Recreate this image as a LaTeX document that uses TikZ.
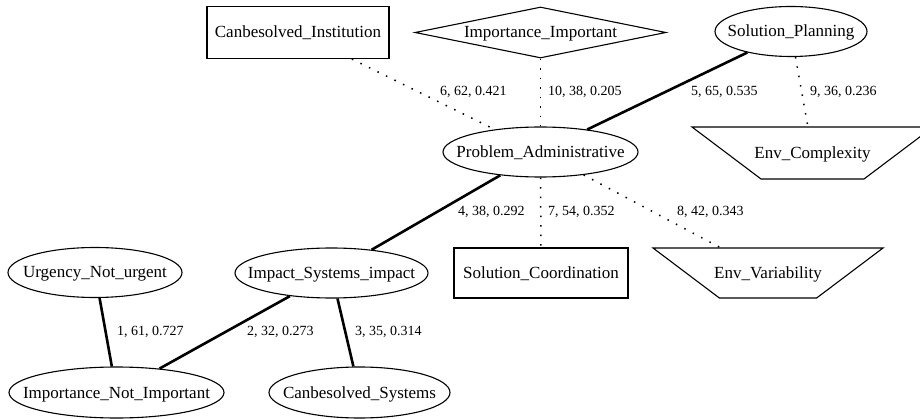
\documentclass[tikz,border=0pt]{standalone}
\usepackage{fontspec}
\setmainfont{Liberation Serif}
\usetikzlibrary{shapes.geometric}

\tikzset{
  graphnode/.style={draw, line width=1.1pt, font=\fontsize{17}{20}\selectfont,
    text height=14pt, text depth=3pt},
  boxnode/.style={graphnode, rectangle, inner sep=0pt},
  ovalnode/.style={graphnode, ellipse, inner xsep=-60pt, inner ysep=-20pt, minimum height=50pt},
  diamondnode/.style={graphnode, diamond, inner sep=-100pt},
  trapnode/.style={graphnode, trapezium, shape border rotate=180, trapezium angle=37,
    trapezium stretches body=true, inner xsep=-20pt},
  strong/.style={line width=2.6pt},
  weak/.style={line width=1.5pt, dash pattern=on 1.5pt off 8pt},
  weight/.style={font=\fontsize{14}{16}\selectfont, inner sep=0pt, anchor=base west},
}

\begin{document}
\begin{tikzpicture}[x=1pt, y=-1pt]
  \useasboundingbox (0,0) rectangle (920,419);
  \fill[white] (0,0) rectangle (920,419);
  \clip (0,0) rectangle (920,419);

  % nodes, top rank
  \node[boxnode, minimum width=182pt, minimum height=52pt] (inst) at (298,32.5) {Canbesolved\_Institution};
  \node[diamondnode, minimum width=251pt, minimum height=51pt] (impimp) at (540.5,32.5) {Importance\_Important};
  \node[ovalnode, minimum width=152pt] (plan) at (791,31.5) {Solution\_Planning};

  % second rank
  \node[ovalnode, minimum width=195pt] (prob) at (540.5,152) {Problem\_Administrative};
  \node[trapnode, minimum width=241pt, inner ysep=17.5pt] (envc) at (812.5,153) {Env\_Complexity};

  % third rank
  \node[ovalnode, minimum width=174pt] (urg) at (95,272.5) {Urgency\_Not\_urgent};
  \node[ovalnode, minimum width=193pt] (impsys) at (331.5,273) {Impact\_Systems\_impact};
  \node[boxnode, minimum width=174pt, minimum height=50pt] (coord) at (541,273) {Solution\_Coordination};
  \node[trapnode, minimum width=230pt, inner ysep=16.5pt] (envv) at (768,273) {Env\_Variability};

  % bottom rank
  \node[ovalnode, minimum width=215pt, minimum height=51pt] (impnot) at (116.5,392.5) {Importance\_Not\_Important};
  \node[ovalnode, minimum width=181pt, minimum height=51pt] (cansys) at (359.5,392.5) {Canbesolved\_Systems};

  % strong links
  \draw[strong] (urg) -- (impnot);
  \draw[strong] (impsys) -- (impnot);
  \draw[strong] (impsys) -- (cansys);
  \draw[strong] (prob) -- (impsys);
  \draw[strong] (plan) -- (prob);

  % weak links
  \draw[weak] (inst) -- (prob);
  \draw[weak] (prob) -- (coord);
  \draw[weak] (prob) -- (envv);
  \draw[weak] (plan) -- (envc);
  \draw[weak] (impimp) -- (prob);

  % link weights
  \node[weight] (w1) at (117,335.5) {1, 61, 0.727};
  \node[weight] (w2) at (247,335.5) {2, 32, 0.273};
  \node[weight] (w3) at (355,335.5) {3, 35, 0.314};
  \node[weight] (w4) at (458,215.5) {4, 38, 0.292};
  \node[weight] (w5) at (691,95.5) {5, 65, 0.535};
  \node[weight] (w6) at (440,95.5) {6, 62, 0.421};
  \node[weight] (w7) at (548,215.5) {7, 54, 0.352};
  \node[weight] (w8) at (677,215.5) {8, 42, 0.343};
  \node[weight] (w9) at (810,95.5) {9, 36, 0.236};
  \node[weight] (w10) at (548,95.5) {10, 38, 0.205};
\end{tikzpicture}
\end{document}
